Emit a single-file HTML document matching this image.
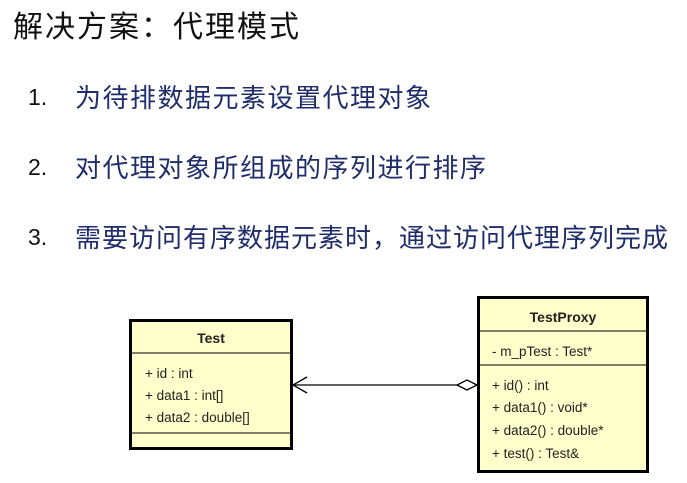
<!DOCTYPE html>
<html><head><meta charset="utf-8"><style>
body{margin:0;background:#fff;width:687px;height:483px;overflow:hidden;position:relative;font-family:"Liberation Sans","Noto Sans CJK SC",sans-serif}
.t{position:absolute;white-space:nowrap}
.n{position:absolute;left:28px;font-size:23px;color:#111;white-space:nowrap}
.l{position:absolute;left:75px;font-size:26px;color:#1f2d6b;white-space:nowrap;letter-spacing:1.5px}
</style></head><body>
<div class="t" style="left:13px;top:2px;font-size:30px;color:#111;letter-spacing:2px">解决方案：代理模式</div>
<div class="n" style="top:84px">1.</div>
<div class="l" style="top:78px">为待排数据元素设置代理对象</div>
<div class="n" style="top:154px">2.</div>
<div class="l" style="top:148px">对代理对象所组成的序列进行排序</div>
<div class="n" style="top:224px">3.</div>
<div class="l" style="top:218px;letter-spacing:1px">需要访问有序数据元素时，通过访问代理序列完成</div>
<svg width="687" height="483" style="position:absolute;left:0;top:0" font-family="Liberation Sans, sans-serif" font-size="13.5" fill="#222">
<rect x="130.5" y="320.5" width="161" height="128" fill="#ffffcc" stroke="#000" stroke-width="3"/>
<line x1="130" y1="353" x2="292" y2="353" stroke="#000"/>
<line x1="130" y1="433" x2="292" y2="433" stroke="#000"/>
<text x="211" y="343" text-anchor="middle" font-weight="bold" font-size="14">Test</text>
<text x="145" y="378">+ id : int</text>
<text x="145" y="400">+ data1 : int[]</text>
<text x="145" y="422">+ data2 : double[]</text>
<rect x="478.5" y="297.5" width="169" height="174" fill="#ffffcc" stroke="#000" stroke-width="3"/>
<line x1="478" y1="331" x2="648" y2="331" stroke="#000"/>
<line x1="478" y1="365" x2="648" y2="365" stroke="#000"/>
<text x="563" y="322" text-anchor="middle" font-weight="bold" font-size="14">TestProxy</text>
<text x="492" y="356">- m_pTest : Test*</text>
<text x="492" y="390">+ id() : int</text>
<text x="492" y="412">+ data1() : void*</text>
<text x="492" y="435">+ data2() : double*</text>
<text x="492" y="458">+ test() : Test&amp;</text>
<line x1="293" y1="385" x2="458" y2="385" stroke="#000" stroke-width="1.3"/>
<polyline points="307,377 293,385 307,393" fill="none" stroke="#000" stroke-width="1.3"/>
<polygon points="477,385 467,380 457,385 467,390" fill="#fff" stroke="#000" stroke-width="1.3"/>
</svg>
</body></html>
